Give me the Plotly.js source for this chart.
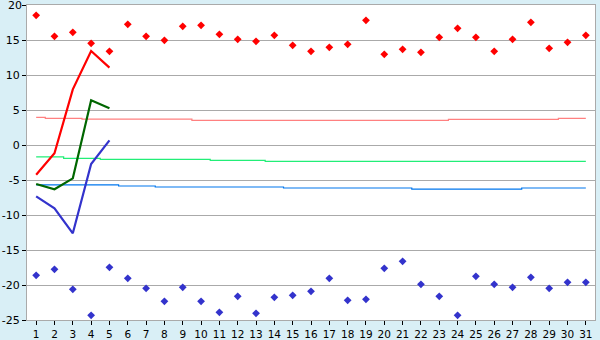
<!DOCTYPE html>
<html>
<head>
<meta charset="utf-8">
<script src="https://cdn.plot.ly/plotly-3.0.1.min.js"></script>
<style>html,body{margin:0;padding:0;background:#d9eff6;}#chart{width:600px;height:340px;}</style>
</head>
<body>
<div id="chart"></div>
<script>
const days = Array.from({length: 31}, (_, i) => i + 1);
const tickLabels = days.map(String);
const yTickVals = [-25, -20, -15, -10, -5, 0, 5, 10, 15, 20];
const yTickLabels = ['-25', '-20', '-15', '-10', '-5', '0', '5', '10', '15', ''];
const yTopLabel = '20';
const yTopValue = 20;

const recordHigh = [18.53, 15.52, 16.1, 14.52, 13.38, 17.24, 15.52, 14.95, 16.95, 17.1,
  15.81, 15.1, 14.81, 15.67, 14.24, 13.38, 13.95, 14.38, 17.81, 12.95,
  13.67, 13.24, 15.38, 16.67, 15.38, 13.38, 15.1, 17.52, 13.81, 14.67, 15.67];
const recordLow = [-18.62, -17.76, -20.62, -24.33, -17.48, -19.05, -20.48, -22.33, -20.33, -22.33,
  -23.9, -21.62, -24.05, -21.76, -21.48, -20.9, -19.05, -22.19, -22.05, -17.62,
  -16.62, -19.9, -21.62, -24.33, -18.76, -19.9, -20.33, -18.9, -20.48, -19.62, -19.62];

const obsDays = [1, 2, 3, 4, 5];
const obsMax = [-4.24, -1.19, 7.95, 13.43, 11.05];
const obsMean = [-5.57, -6.33, -4.76, 6.38, 5.24];
const obsMin = [-7.33, -9.05, -12.62, -2.71, 0.67];

const normMax = [3.95, 3.81, 3.81, 3.71, 3.71, 3.71, 3.71, 3.71, 3.71, 3.52,
  3.52, 3.52, 3.52, 3.52, 3.52, 3.52, 3.52, 3.52, 3.52, 3.52,
  3.52, 3.52, 3.52, 3.67, 3.67, 3.67, 3.67, 3.67, 3.67, 3.81, 3.81];
const normMean = [-1.71, -1.71, -1.90, -1.90, -2.05, -2.05, -2.05, -2.05, -2.05, -2.05,
  -2.19, -2.19, -2.19, -2.33, -2.33, -2.33, -2.33, -2.33, -2.33, -2.33,
  -2.33, -2.33, -2.33, -2.33, -2.33, -2.33, -2.33, -2.33, -2.33, -2.33, -2.33];
const normMin = [-5.71, -5.71, -5.71, -5.71, -5.71, -5.86, -5.86, -6.0, -6.0, -6.0,
  -6.0, -6.0, -6.0, -6.0, -6.14, -6.14, -6.14, -6.14, -6.14, -6.14,
  -6.14, -6.29, -6.29, -6.29, -6.29, -6.29, -6.29, -6.14, -6.14, -6.14, -6.14];

const traces = [
  {x: days, y: normMax, mode: 'lines', line: {color: '#ff8080', width: 1.2, shape: 'hvh'}},
  {x: days, y: normMean, mode: 'lines', line: {color: '#22ee77', width: 1.2, shape: 'hvh'}},
  {x: days, y: normMin, mode: 'lines', line: {color: '#0077ee', width: 1.2, shape: 'hvh'}},
  {x: obsDays, y: obsMax, mode: 'lines', line: {color: '#ff0000', width: 2.2}},
  {x: obsDays, y: obsMean, mode: 'lines', line: {color: '#006600', width: 2.2}},
  {x: obsDays, y: obsMin, mode: 'lines', line: {color: '#3333cc', width: 2.2}},
  {x: days, y: recordHigh, mode: 'markers', marker: {symbol: 'diamond', size: 6, color: '#ff0000'}},
  {x: days, y: recordLow, mode: 'markers', marker: {symbol: 'diamond', size: 6, color: '#3333cc'}}
];

const layout = {
  width: 600, height: 340,
  margin: {l: 27, r: 5, t: 5, b: 20, pad: 0},
  paper_bgcolor: '#d9eff6',
  plot_bgcolor: '#ffffff',
  showlegend: false,
  hovermode: false,
  font: {family: 'DejaVu Sans, Verdana, sans-serif', size: 10.5, color: '#000'},
  xaxis: {
    range: [0.5, 31.5], tickmode: 'array', tickvals: days, ticktext: tickLabels,
    showgrid: false, zeroline: false,
    showline: true, linecolor: '#aaaaaa', linewidth: 1, mirror: true,
    ticks: 'outside', ticklen: 4, tickcolor: '#000', tickwidth: 1,
    tickfont: {size: 10.5}, fixedrange: true
  },
  yaxis: {
    range: [-25, 20], tickmode: 'array', tickvals: yTickVals, ticktext: yTickLabels,
    showgrid: true, gridcolor: '#aaaaaa', gridwidth: 1, zeroline: false,
    showline: true, linecolor: '#aaaaaa', linewidth: 1, mirror: true,
    ticks: 'outside', ticklen: 4, tickcolor: '#000', tickwidth: 1,
    tickfont: {size: 11}, fixedrange: true
  },
  annotations: [{
    text: yTopLabel, xref: 'paper', x: 0, yref: 'y', y: yTopValue,
    xanchor: 'right', yanchor: 'middle', xshift: -4, showarrow: false,
    font: {size: 11, color: '#000'}, borderpad: 0
  }]
};

Plotly.newPlot('chart', traces, layout, {staticPlot: true, displayModeBar: false});
</script>
</body>
</html>
